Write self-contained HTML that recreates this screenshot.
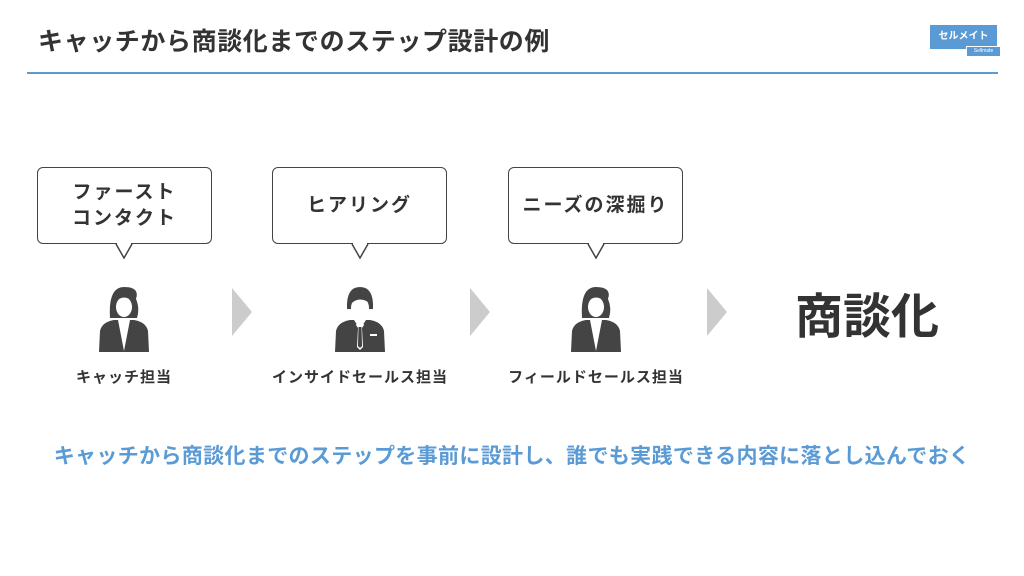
<!DOCTYPE html>
<html><head><meta charset="utf-8"><style>
body{margin:0;width:1024px;height:576px;background:#fff;position:relative;overflow:hidden;font-family:"Liberation Sans","Noto Sans CJK JP",sans-serif;color:#333}
.a{position:absolute}
.title{left:38px;top:22px;font-size:25px;font-weight:bold;letter-spacing:0.6px;color:#333}
.line{left:27px;top:72px;width:971px;height:2px;background:#5b9bd5}
.bub{position:absolute;top:167px;width:175px;height:77px;border:1.5px solid #444;border-radius:6px;background:#fff;display:flex;align-items:center;justify-content:center;text-align:center;font-size:19px;font-weight:bold;letter-spacing:2px;line-height:26px;box-sizing:border-box}
.lab{position:absolute;top:366px;width:240px;text-align:center;font-size:15px;font-weight:bold;letter-spacing:1px}
.arr{position:absolute;top:288px;width:0;height:0;border-top:24px solid transparent;border-bottom:24px solid transparent;border-left:20px solid #ccc}
</style></head><body>
<div class="a title">キャッチから商談化までのステップ設計の例</div>
<div class="a" style="left:930px;top:25px;width:67px;height:24px;background:#5b9bd5;color:#fff;font-size:10px;font-weight:bold;text-align:center;line-height:24px">セルメイト</div>
<div class="a" style="left:966px;top:46px;width:33px;height:9px;background:#5b9bd5;border:1px solid #fff;color:#fff;font-size:5px;text-align:center;line-height:9px">Sellmate</div>
<div class="a line"></div>

<div class="bub" style="left:37px">ファースト<br>コンタクト</div>
<div class="bub" style="left:272px">ヒアリング</div>
<div class="bub" style="left:508px">ニーズの深掘り</div>

<svg class="a" style="left:0;top:0" width="1024" height="576">
<g fill="#fff" stroke="#444" stroke-width="1.5">
<polyline points="116,244 124,258 132,244"/>
<polyline points="352,244 360,258 368,244"/>
<polyline points="588,244 596,258 604,244"/>
</g>
<g fill="#fff"><rect x="117" y="241" width="14" height="3"/><rect x="353" y="241" width="14" height="3"/><rect x="589" y="241" width="14" height="3"/></g>
<defs>
<g id="w" fill="#444">
<path d="M-14,-5 Q-16,-36 0,-36 Q16,-36 12,-24 Q16,-15 13,-5 Z"/>
<path d="M-25,29 L-24,8 Q-22,-1 -10,-3 L10,-3 Q22,-1 24,8 L25,29 Z"/>
<path d="M-6,-3 L0,28 L6,-3 Z" fill="#fff"/>
<ellipse cx="0" cy="-16" rx="8" ry="10" fill="#fff"/>
<path d="M-9,-20 Q-2,-30 9,-22 L9,-28 Q0,-33 -9,-27 Z" fill="#444"/>
</g>
<g id="m" fill="#444">
<path d="M-13,-14 Q-14,-36 0,-36 Q14,-36 13,-14 Z"/>
<path d="M-25,29 L-24,8 Q-22,-1 -10,-3 L10,-3 Q22,-1 24,8 L25,29 Z"/>
<path d="M-6,-3 L0,6 L6,-3 Z" fill="#fff"/>
<path d="M-3,-1 L3,-1 L4,2 L2,5 L3,24 L0,27 L-3,24 L-2,5 L-4,2 Z" fill="#fff"/>
<path d="M-1.5,4 L1.5,4 L2,23 L0,25 L-2,23 Z" fill="#444"/>
<rect x="10" y="11" width="7" height="2" fill="#fff"/>
<ellipse cx="0" cy="-15" rx="9" ry="11" fill="#fff"/>
<path d="M-10,-18 Q-2,-28 10,-20 L10,-27 Q0,-33 -10,-26 Z"/>
</g>
</defs>
<use href="#w" x="124" y="323"/>
<use href="#m" x="360" y="323"/>
<use href="#w" x="596" y="323"/>
</svg>

<div class="arr" style="left:232px"></div>
<div class="arr" style="left:470px"></div>
<div class="arr" style="left:707px"></div>

<div class="lab" style="left:4px">キャッチ担当</div>
<div class="lab" style="left:240px">インサイドセールス担当</div>
<div class="lab" style="left:476px">フィールドセールス担当</div>

<div class="a" style="left:795px;top:277px;font-size:48px;font-weight:bold;letter-spacing:0px;color:#333">商談化</div>

<div class="a" style="left:0;top:440px;width:1024px;text-align:center;font-size:21px;font-weight:bold;color:#5b9bd5;letter-spacing:0.35px">キャッチから商談化までのステップを事前に設計し、誰でも実践できる内容に落とし込んでおく</div>
</body></html>
